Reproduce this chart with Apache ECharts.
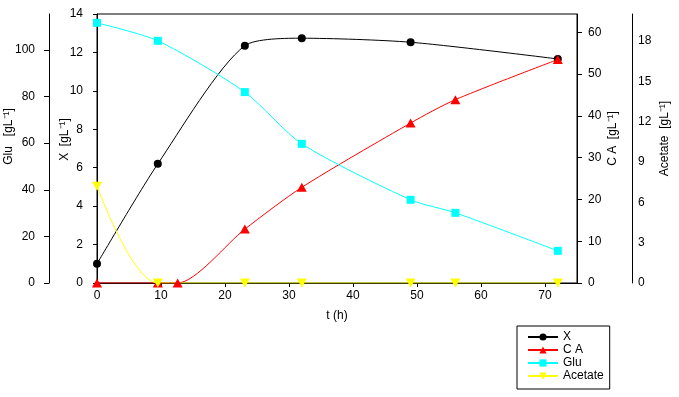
<!DOCTYPE html>
<html>
<head>
<meta charset="utf-8">
<script src="https://cdn.jsdelivr.net/npm/echarts@6/dist/echarts.min.js"></script>
<style>
html,body{margin:0;padding:0;background:#fff;}
#chart{width:679px;height:397px;}
</style>
</head>
<body>
<div id="chart"></div>
<script>
// ---- data ----
const tX = [0, 9.5, 23.1, 32.0, 49.0, 72.0];
const xVals = [1.0, 6.2, 12.35, 12.74, 12.53, 11.66];
const tCA = [0, 9.5, 12.6, 23.1, 32.0, 49.0, 56.0, 72.0];
const caVals = [0, 0, 0, 12.9, 22.9, 38.3, 43.9, 53.5];
const tGlu = [0, 9.5, 23.1, 32.0, 49.0, 56.0, 72.0];
const gluVals = [111.6, 103.9, 81.9, 59.7, 35.7, 30.1, 13.8];
const tAc = [0, 9.5, 23.1, 32.0, 49.0, 56.0, 72.0];
const acVals = [7.2, 0, 0, 0, 0, 0, 0];

const timeTicks = [0, 10, 20, 30, 40, 50, 60, 70];
const xTicks = [0, 2, 4, 6, 8, 10, 12, 14];
const gluTicks = [0, 20, 40, 60, 80, 100];
const caTicks = [0, 10, 20, 30, 40, 50, 60];
const acTicks = [0, 3, 6, 9, 12, 15, 18];

const seriesNames = ['X', 'C A', 'Glu', 'Acetate'];
const axisNames = ['t (h)', 'X  [gL\u207B\u00B9]', 'Glu   [gL\u207B\u00B9]', 'C A  [gL\u207B\u00B9]', 'Acetate  [gL\u207B\u00B9]'];

const pairs = (ts, vs) => ts.map((t, i) => [t, vs[i]]);

const FONT = 'Liberation Sans, Arial, sans-serif';
const lab = (margin) => ({ color: '#000', fontFamily: FONT, fontSize: 12, margin: margin });
const nameStyle = (pad) => ({ color: '#000', fontFamily: FONT, fontSize: 12, padding: pad });

const chart = echarts.init(document.getElementById('chart'), null, { renderer: 'canvas' });
chart.setOption({
  animation: false,
  backgroundColor: '#fff',
  textStyle: { fontFamily: FONT },
  grid: {
    left: 97, top: 14, width: 480, height: 269,
    show: true, borderColor: '#000', borderWidth: 1,
    containLabel: false, outerBoundsMode: 'none'
  },
  legend: {
    orient: 'vertical',
    left: 517, top: 326,
    data: seriesNames,
    itemWidth: 30, itemHeight: 9, itemGap: 1,
    padding: [5, 6, 7, 10],
    borderColor: '#000', borderWidth: 1,
    backgroundColor: '#fff',
    textStyle: { color: '#000', fontFamily: FONT, fontSize: 12 },
    selectedMode: false
  },
  xAxis: {
    type: 'value', min: 0, max: 75, interval: 10,
    name: axisNames[0], nameLocation: 'middle', nameGap: 27, nameMoveOverlap: false,
    nameTextStyle: nameStyle(0),
    axisLine: { show: true, lineStyle: { color: '#000', width: 1 } },
    axisTick: { show: true, inside: false, length: 4, lineStyle: { color: '#000' }, customValues: timeTicks },
    axisLabel: Object.assign(lab(7), { customValues: timeTicks }),
    splitLine: { show: false }
  },
  yAxis: [
    {
      type: 'value', min: 0, max: 14, interval: 2, position: 'left', offset: 0,
      name: axisNames[1], nameLocation: 'middle', nameRotate: 90, nameGap: 26, nameMoveOverlap: false,
      nameTextStyle: nameStyle([0, 0, 0, 18]),
      axisLine: { show: true, lineStyle: { color: '#000' } },
      axisTick: { show: true, length: 4, lineStyle: { color: '#000' }, customValues: xTicks },
      axisLabel: Object.assign(lab(14), { customValues: xTicks }),
      splitLine: { show: false }
    },
    {
      type: 'value', min: 0, max: 115.4, position: 'left', offset: 48,
      name: axisNames[2], nameLocation: 'middle', nameRotate: 90, nameGap: 34, nameMoveOverlap: false,
      nameTextStyle: nameStyle([0, 0, 0, 24]),
      axisLine: { show: true, lineStyle: { color: '#000' } },
      axisTick: { show: true, length: 5, lineStyle: { color: '#000' }, customValues: gluTicks },
      axisLabel: Object.assign(lab(14), { customValues: gluTicks }),
      splitLine: { show: false }
    },
    {
      type: 'value', min: 0, max: 64.4, position: 'right', offset: 0,
      name: axisNames[3], nameLocation: 'middle', nameRotate: 90, nameGap: 30, nameMoveOverlap: false,
      nameTextStyle: nameStyle([0, 0, 0, 20]),
      axisLine: { show: true, lineStyle: { color: '#000' } },
      axisTick: { show: true, length: 5, lineStyle: { color: '#000' }, customValues: caTicks },
      axisLabel: Object.assign(lab(11), { customValues: caTicks }),
      splitLine: { show: false }
    },
    {
      type: 'value', min: 0, max: 20, position: 'right', offset: 55,
      name: axisNames[4], nameLocation: 'middle', nameRotate: 90, nameGap: 27, nameMoveOverlap: false,
      nameTextStyle: nameStyle([0, 0, 0, 20]),
      axisLine: { show: true, lineStyle: { color: '#000' } },
      axisTick: { show: false },
      axisLabel: Object.assign(lab(6), { customValues: acTicks }),
      splitLine: { show: false }
    }
  ],
  series: [
    {
      name: seriesNames[0], type: 'line', yAxisIndex: 0, data: pairs(tX, xVals),
      smooth: 0.25, symbol: 'circle', symbolSize: 8,
      lineStyle: { color: '#000', width: 1 }, itemStyle: { color: '#000' }
    },
    {
      name: seriesNames[1], type: 'line', yAxisIndex: 2, data: pairs(tCA, caVals),
      smooth: 0.25, symbol: 'triangle', symbolSize: [10, 9],
      lineStyle: { color: '#ff0000', width: 1 }, itemStyle: { color: '#ff0000' }
    },
    {
      name: seriesNames[2], type: 'line', yAxisIndex: 1, data: pairs(tGlu, gluVals),
      smooth: 0.25, symbol: 'rect', symbolSize: 8,
      lineStyle: { color: '#00ffff', width: 1 }, itemStyle: { color: '#00ffff' }
    },
    {
      name: seriesNames[3], type: 'line', yAxisIndex: 3, data: pairs(tAc, acVals),
      smooth: 0.3, symbol: 'path://M0,0 L10,0 L5,9 Z', symbolSize: [10, 9],
      lineStyle: { color: '#ffff00', width: 1 }, itemStyle: { color: '#ffff00' }
    }
  ]
});
</script>
</body>
</html>
